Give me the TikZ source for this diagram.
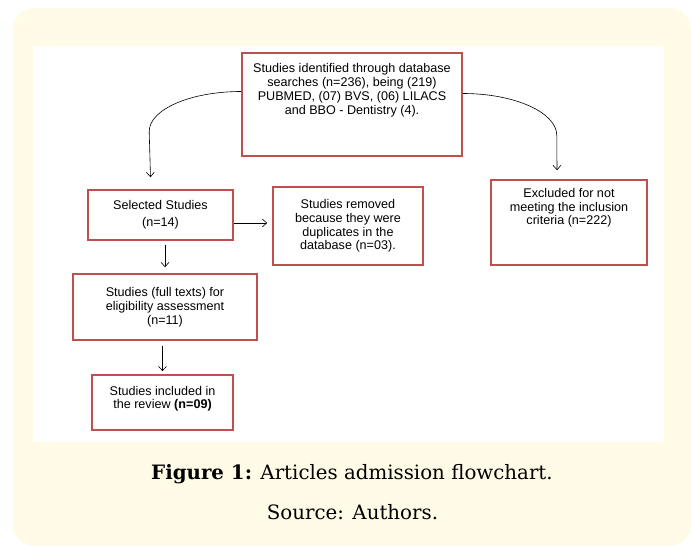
\documentclass[tikz,border=0pt]{standalone}
\usepackage{fontspec}
\setmainfont{DejaVu Serif}
\setsansfont{Liberation Sans}
\usepackage{xcolor}
\usepackage{tikz}
\usetikzlibrary{arrows.meta, positioning}

\definecolor{panelyellow}{HTML}{FFFBE7}
\definecolor{boxred}{HTML}{C0504D}

\tikzset{
    flowbox/.style={draw=boxred, line width=1.6pt, fill=white, align=center,
        inner sep=0pt, font=\sffamily\fontsize{12.6}{13.8}\selectfont},
    flowarrow/.style={semithick, -{Straight Barb[length=4.5pt, width=8pt]}}
}

\begin{document}
\begin{tikzpicture}[x=1pt, y=-1pt]

    \useasboundingbox (0,0) rectangle (691,546);

    % Yellow frame and white panel
    \fill[panelyellow, rounded corners=21pt] (13,8) rectangle (691,546);
    \fill[white] (33,46) rectangle (664,442);

    % Boxes of the flowchart
    \node[flowbox, minimum width=220pt, minimum height=103pt, text depth=31pt] (search) at (352,104.5)
        {Studies identified through database\\ searches (n=236), being (219)\\ PUBMED, (07) BVS, (06) LILACS\\ and BBO - Dentistry (4).};
    \node[flowbox, minimum width=145pt, minimum height=50pt] (selected) at (160.5,215)
        {Selected Studies\\[3pt] (n=14)};
    \node[flowbox, minimum width=150pt, minimum height=78pt] (removed) at (348,226)
        {Studies removed\\ because they were\\ duplicates in the\\ database (n=03).};
    \node[flowbox, minimum width=156pt, minimum height=85pt, text depth=32pt] (excluded) at (569,222.5)
        {Excluded for not\\ meeting the inclusion\\ criteria (n=222)};
    \node[flowbox, minimum width=184pt, minimum height=66pt] (fulltext) at (165,307)
        {Studies (full texts) for\\ eligibility assessment\\ (n=11)};
    \node[flowbox, minimum width=141pt, minimum height=55pt, text depth=10pt] (included) at (162.5,402.5)
        {Studies included in\\ the review \textbf{(n=09)}};

    % Connectors
    \draw[flowarrow] ([yshift=13pt]search.west) .. controls +(-51,0) and +(0,-22) .. ++(-92,40)
        -- ([xshift=-10pt, yshift=12pt]selected.north);
    \draw[flowarrow] ([yshift=11pt]search.east) .. controls +(52,0) and +(0,-23) .. ++(94,42)
        -- ([xshift=-12pt, yshift=9pt]excluded.north);
    \draw[flowarrow, shorten >=5pt] ([yshift=-8pt]selected.east) -- ([yshift=-8pt]selected.east -| removed.west);
    \draw[flowarrow, shorten <=4pt, shorten >=6pt] (fulltext.north |- selected.south) -- (fulltext.north);
    \draw[flowarrow, shorten <=5pt, shorten >=3pt] (included.north |- fulltext.south) -- (included.north);

    % Caption
    \node[font=\fontsize{19.8}{24}\selectfont] (caption) at (352,474) {\textbf{Figure 1:} Articles admission flowchart.};
    \node[font=\fontsize{19.8}{24}\selectfont] (source) at (352.5,512) {Source: Authors.};

\end{tikzpicture}
\end{document}
